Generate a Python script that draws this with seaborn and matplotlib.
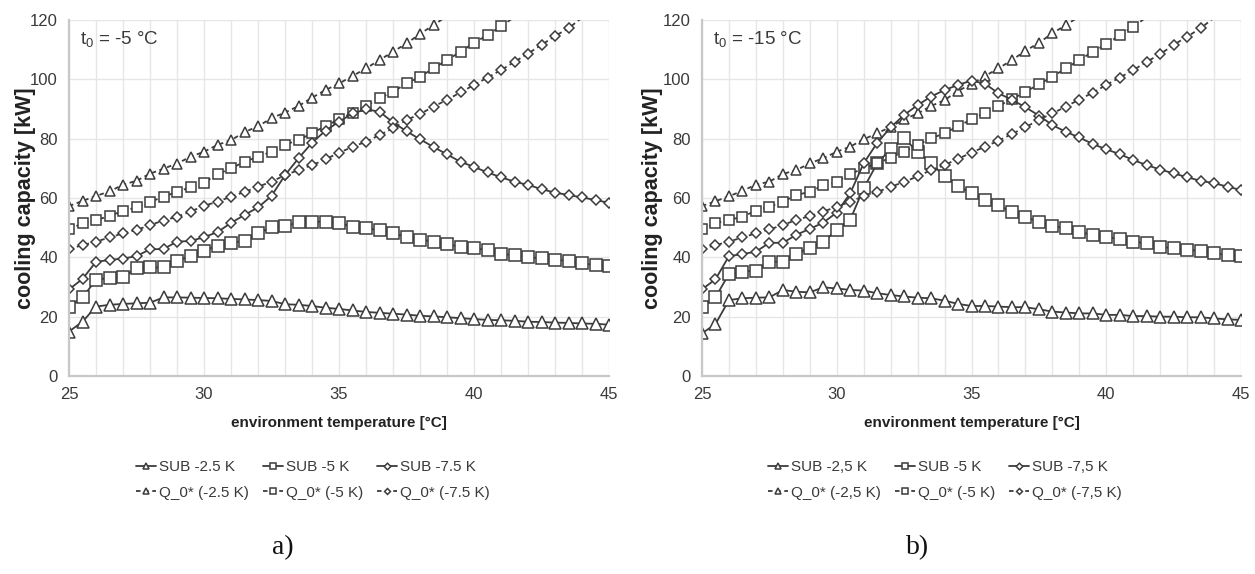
import numpy as np
import pandas as pd
import matplotlib
matplotlib.use("Agg")
import matplotlib.pyplot as plt
import seaborn as sns
from matplotlib.ticker import MultipleLocator

# environment temperature [°C]
temperature = np.arange(25.0, 45.01, 0.5)

# ---- a) t0 = -5 °C ----
sub25_a = [15.0, 18.3, 23.4, 24.0, 24.3, 24.5, 24.7, 26.5, 26.5, 26.4, 26.3, 26.2, 26.0, 25.8,
           25.6, 25.3, 24.2, 24.0, 23.6, 23.0, 22.6, 22.1, 21.6, 21.3, 21.0, 20.7, 20.3, 20.1,
           19.8, 19.5, 19.2, 18.9, 18.8, 18.6, 18.3, 18.2, 18.0, 17.9, 17.7, 17.6, 17.3]
sub50_a = [23.2, 26.5, 32.4, 33.1, 33.4, 36.3, 36.6, 36.6, 38.8, 40.4, 42.3, 43.9, 44.8, 45.6,
           48.1, 50.1, 50.5, 51.8, 52.0, 52.0, 51.6, 50.3, 49.9, 49.1, 48.1, 46.9, 46.0, 45.3,
           44.4, 43.6, 43.0, 42.5, 41.1, 40.8, 40.0, 39.7, 39.1, 38.9, 38.0, 37.4, 37.1]
sub75_a = [29.2, 32.7, 38.5, 39.1, 39.6, 40.4, 42.7, 42.8, 45.3, 45.5, 46.8, 48.5, 51.6, 54.3,
           56.8, 60.7, 67.7, 73.4, 78.6, 82.7, 85.7, 88.5, 89.9, 89.1, 85.5, 82.5, 79.8, 77.2,
           74.7, 72.2, 70.5, 68.6, 67.0, 65.5, 64.4, 63.0, 61.8, 61.0, 60.2, 59.3, 58.4]
q25_a = [57.3, 59.0, 60.7, 62.2, 64.5, 65.8, 68.2, 69.9, 71.6, 73.9, 75.6, 77.9, 79.5, 82.2,
         84.2, 86.9, 88.8, 91.0, 93.8, 96.4, 98.6, 101.1, 103.7, 106.5, 109.3, 112.1, 115.3,
         118.3, 121.3]
q50_a = [49.4, 51.5, 52.6, 53.9, 55.7, 56.8, 58.7, 60.4, 62.1, 63.6, 65.2, 68.0, 70.0, 72.2,
         73.9, 75.6, 77.9, 79.6, 81.8, 84.3, 86.5, 88.8, 91.0, 93.6, 95.8, 98.6, 100.9, 103.7,
         106.5, 109.3, 112.3, 114.9, 117.9, 121.0]
q75_a = [42.8, 44.1, 45.3, 46.7, 48.1, 49.2, 50.9, 52.4, 53.7, 55.4, 57.4, 58.7, 60.5, 62.0,
         63.8, 65.5, 67.7, 69.4, 71.1, 73.0, 75.3, 77.2, 79.0, 81.2, 83.5, 86.3, 88.3, 90.8,
         93.1, 95.6, 98.1, 100.6, 103.1, 105.9, 108.7, 111.6, 114.6, 117.2, 120.8]

# ---- b) t0 = -15 °C ----
sub25_b = [14.4, 17.5, 25.6, 26.2, 26.4, 26.5, 29.0, 28.4, 28.2, 29.9, 29.5, 29.0, 28.8, 27.9,
           27.3, 26.8, 26.4, 26.2, 25.4, 24.3, 23.6, 23.6, 23.4, 23.2, 23.2, 22.5, 21.7, 21.4,
           21.1, 21.1, 20.6, 20.6, 20.2, 20.2, 20.0, 20.0, 19.8, 19.8, 19.4, 19.1, 18.9]
sub50_b = [23.2, 26.5, 34.4, 35.2, 35.5, 38.5, 38.5, 41.2, 43.2, 45.1, 49.3, 52.7, 63.3, 71.7,
           76.5, 80.1, 75.6, 71.7, 67.3, 64.0, 61.7, 59.4, 57.6, 55.2, 53.6, 52.0, 50.5, 49.8,
           48.6, 47.5, 46.9, 46.1, 45.3, 44.7, 43.6, 43.0, 42.5, 42.2, 41.3, 40.8, 40.4]
sub75_b = [29.2, 32.6, 40.4, 41.1, 41.9, 44.9, 44.9, 47.6, 49.6, 51.7, 55.1, 61.6, 71.7, 78.6,
           83.8, 88.0, 91.3, 94.2, 96.4, 98.1, 99.6, 98.5, 95.3, 93.1, 90.6, 87.8, 84.6, 82.3,
           80.4, 78.2, 76.4, 74.8, 72.8, 71.1, 69.6, 68.3, 67.0, 65.8, 65.0, 63.8, 62.7]
q25_b = [57.3, 58.9, 60.6, 62.4, 64.5, 65.5, 68.1, 69.4, 71.7, 73.4, 75.6, 77.3, 79.8, 81.8,
         84.0, 86.5, 88.5, 91.0, 93.0, 96.1, 98.4, 101.1, 103.7, 106.5, 109.6, 112.3, 115.5,
         118.3, 121.2]
q50_b = [49.4, 51.5, 52.6, 53.7, 55.7, 57.1, 58.7, 61.0, 62.1, 64.3, 65.5, 68.1, 70.0, 71.7,
         73.6, 75.6, 77.9, 80.1, 81.8, 84.2, 86.5, 88.8, 91.0, 93.3, 95.8, 98.3, 100.9, 103.7,
         106.5, 109.3, 111.8, 114.9, 117.7, 121.0]
q75_b = [42.8, 44.1, 45.3, 46.7, 48.1, 49.4, 50.9, 52.6, 53.9, 55.4, 57.1, 58.7, 60.7, 62.0,
         63.8, 65.4, 67.3, 69.4, 71.1, 73.2, 75.3, 77.3, 79.3, 81.6, 83.8, 86.4, 88.5, 90.8,
         93.2, 95.5, 98.1, 100.6, 103.1, 105.9, 108.5, 111.6, 114.4, 117.2, 120.8]

labels_a = ["SUB -2.5 K", "Q_0* (-2.5 K)", "SUB -5 K", "Q_0* (-5 K)", "SUB -7.5 K", "Q_0* (-7.5 K)"]
labels_b = ["SUB -2,5 K", "Q_0* (-2,5 K)", "SUB -5 K", "Q_0* (-5 K)", "SUB -7,5 K", "Q_0* (-7,5 K)"]
titles = ["t$_\\mathregular{0}$ = -5 °C", "t$_\\mathregular{0}$ = -15 °C"]
panel_tags = ["a)", "b)"]

sns.set_style("white")
SANS = ["Liberation Sans", "DejaVu Sans"]
plt.rcParams["font.family"] = SANS
plt.rcParams["mathtext.fontset"] = "custom"
plt.rcParams["mathtext.rm"] = "Liberation Sans"

LINE = "#3c3c3c"
GRID = "#e6e6e6"
AXIS = "#c8c8c8"
TXT = "#3a3a3a"

fig = plt.figure(figsize=(12.55, 5.74), dpi=100)
ax_a = fig.add_axes([69 / 1255, 1 - 376 / 574, 540 / 1255, 356 / 574])
ax_b = fig.add_axes([702 / 1255, 1 - 376 / 574, 539 / 1255, 356 / 574])

series_a = [sub25_a, q25_a, sub50_a, q50_a, sub75_a, q75_a]
series_b = [sub25_b, q25_b, sub50_b, q50_b, sub75_b, q75_b]
markers = ["^", "^", "s", "s", "D", "D"]
sizes = [8.0, 7.2, 8.0, 7.4, 5.6, 5.0]
styles = ["-", (0, (2.5, 2.0)), "-", (0, (2.5, 2.0)), "-", (0, (2.5, 2.0))]

legend_x = [313 / 1255, 945 / 1255]
tag_x = [283 / 1255, 918 / 1255]
ylabel_x = [-0.062, -0.072]

for k, (ax, series, labels) in enumerate([(ax_a, series_a, labels_a), (ax_b, series_b, labels_b)]):
    for vals, lab, mk, ms, ls in zip(series, labels, markers, sizes, styles):
        vals = np.asarray(vals)
        df = pd.DataFrame({"t": temperature[:len(vals)], "q": vals})
        shown = [i for i, v in enumerate(vals) if v <= 120]
        sns.lineplot(data=df, x="t", y="q", ax=ax, color=LINE, linewidth=1.3,
                     linestyle=ls, marker=mk, markersize=ms, markerfacecolor="white",
                     markeredgecolor=LINE, markeredgewidth=1.1, markevery=shown,
                     label=lab, sort=False, estimator=None)

    ax.set_xlim(25, 45)
    ax.set_ylim(0, 120)
    ax.xaxis.set_major_locator(MultipleLocator(5))
    ax.xaxis.set_minor_locator(MultipleLocator(1))
    ax.yaxis.set_major_locator(MultipleLocator(20))
    ax.grid(True, which="both", axis="x", color=GRID, linewidth=1.0)
    ax.grid(True, which="major", axis="y", color=GRID, linewidth=1.0)
    ax.set_axisbelow(True)
    for side in ["top", "right"]:
        ax.spines[side].set_visible(False)
    for side in ["left", "bottom"]:
        ax.spines[side].set_color(AXIS)
        ax.spines[side].set_linewidth(1.6)
    ax.tick_params(axis="both", which="major", direction="out", length=5, width=1.2,
                   color=AXIS, labelsize=12, labelcolor=TXT, pad=3)
    ax.tick_params(axis="x", which="minor", length=0)
    ax.set_xlabel("environment temperature [°C]", fontsize=11, fontweight="bold",
                  color="#222222", labelpad=10)
    ax.set_ylabel("cooling capacity [kW]", fontsize=15.5, fontweight="bold", color="#222222")
    ax.yaxis.set_label_coords(ylabel_x[k], 0.5)
    ax.text(0.02, 0.945, titles[k], transform=ax.transAxes, fontsize=13.5, color=TXT,
            ha="left", va="center")

    handles, hl = ax.get_legend_handles_labels()
    ax.get_legend().remove()
    fig.legend(handles, hl, loc="center", bbox_to_anchor=(legend_x[k], 1 - 480 / 574),
               ncol=3, frameon=False, fontsize=11, markerscale=0.6, handlelength=1.3,
               handletextpad=0.2, columnspacing=0.9, labelspacing=0.75, labelcolor=TXT,
               borderpad=0.2)
    fig.text(tag_x[k], 1 - 548 / 574, panel_tags[k], ha="center", va="center",
             fontsize=20, family=["Liberation Serif", "DejaVu Serif"], color="#111111")

fig.savefig("out.png", dpi=100, facecolor="white")
